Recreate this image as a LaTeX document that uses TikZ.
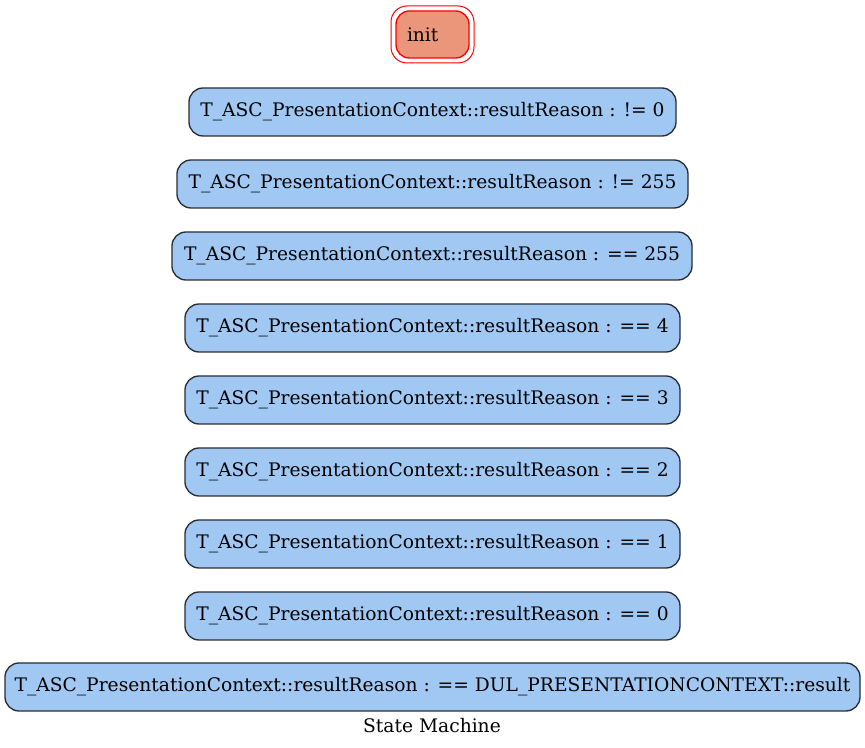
\documentclass[tikz,border=0pt]{standalone}
\usepackage{fontspec}
\setmainfont{DejaVu Serif}
\usepackage{tikz}
\definecolor{stateblue}{RGB}{160,200,242}
\definecolor{initsalmon}{RGB}{235,150,122}
\definecolor{edgegray}{RGB}{40,44,52}
\tikzset{
	state/.style={draw=edgegray, fill=stateblue, line width=1pt, rounded corners=10.5pt,
		minimum height=36pt, inner sep=0pt, font=\fontsize{14pt}{16pt}\selectfont},
	initstate/.style={draw=red, fill=initsalmon, line width=1pt, rounded corners=10pt,
		minimum height=35.25pt, minimum width=54.75pt, inner ysep=0pt, inner xsep=8.25pt,
		text width=38.25pt, align=left, font=\fontsize{14pt}{16pt}\selectfont},
	initring/.style={draw=red, line width=0.75pt, rounded corners=12pt,
		minimum height=42.75pt, minimum width=62.25pt, inner sep=0pt}
}

\begin{document}
\begin{tikzpicture}[x=0.75pt, y=-0.75pt]
		%%%%% START %%%%%
		
		\useasboundingbox (0, 0) rectangle (865, 748);
		
		% initial state
		\node[initring] (init-ring) at (432.5, 34.5) {};
		\node[initstate] (init) at (432.5, 34.5) {init};
		
		% condition states
		\node[state, minimum width=365.25pt] (neq0) at (432.5, 112) {T\_ASC\_PresentationContext::resultReason : != 0};
		\node[state, minimum width=383.25pt] (neq255) at (432.5, 184) {T\_ASC\_PresentationContext::resultReason : != 255};
		\node[state, minimum width=390pt] (eq255) at (432, 256) {T\_ASC\_PresentationContext::resultReason : == 255};
		\node[state, minimum width=371.25pt] (eq4) at (432.5, 328) {T\_ASC\_PresentationContext::resultReason : == 4};
		\node[state, minimum width=371.25pt] (eq3) at (432.5, 400) {T\_ASC\_PresentationContext::resultReason : == 3};
		\node[state, minimum width=371.25pt] (eq2) at (432.5, 472) {T\_ASC\_PresentationContext::resultReason : == 2};
		\node[state, minimum width=371.25pt] (eq1) at (432.5, 544) {T\_ASC\_PresentationContext::resultReason : == 1};
		\node[state, minimum width=371.25pt] (eq0) at (432.5, 616) {T\_ASC\_PresentationContext::resultReason : == 0};
		\node[state, minimum width=641.25pt] (eqdul) at (432.5, 687) {T\_ASC\_PresentationContext::resultReason : == DUL\_PRESENTATIONCONTEXT::result};
		
		% caption
		\node[font=\fontsize{14pt}{16pt}\selectfont] (caption) at (432, 726) {State Machine};
		
		%%%%% END %%%%%
	\end{tikzpicture}
\end{document}
